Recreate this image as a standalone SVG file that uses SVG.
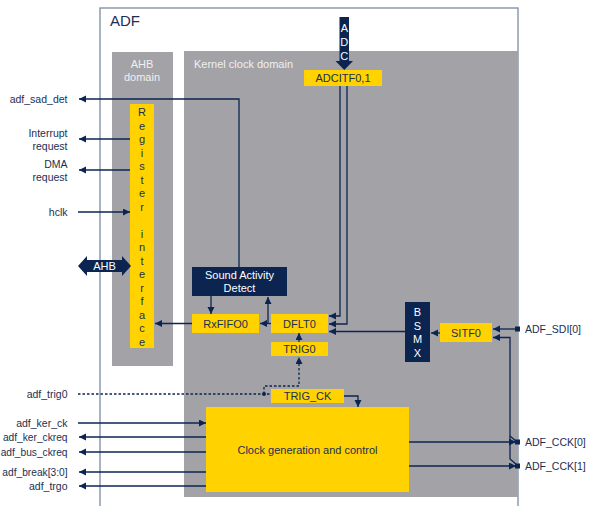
<svg xmlns="http://www.w3.org/2000/svg" width="589" height="506" viewBox="0 0 589 506">
<defs>
<style>
text{font-family:"Liberation Sans",Arial,sans-serif;fill:#1b2f52;font-size:11px}
.s{font-size:10.5px}
.t{font-size:10.2px}
.w{fill:#ffffff}
.lt{fill:#f0f0f2}
.mid{text-anchor:middle}
.end{text-anchor:end}
.y{fill:#ffd200}
.n{fill:#0b2550}
.g{fill:#a3a2a7}
.c{fill:none;stroke:#0b2550;stroke-width:1.3}
.a{marker-end:url(#ah)}
.d{stroke-dasharray:2.5 2}
</style>
<marker id="ah" markerUnits="userSpaceOnUse" markerWidth="8" markerHeight="8" refX="7" refY="3.5" orient="auto">
<path d="M0,0 L7,3.5 L0,7 z" fill="#0b2550"/>
</marker>
</defs>
<rect x="0" y="0" width="589" height="506" fill="#ffffff"/>
<g id="adf">
<rect x="100" y="8" width="418" height="510" fill="#ffffff" stroke="#7a8aa3" stroke-width="1.3"/>
<text x="110" y="26" style="font-size:15px">ADF</text>
</g>
<g id="ahb-domain">
<rect class="g" x="112" y="52" width="61" height="314"/>
<text class="lt mid" x="142" y="68">AHB</text>
<text class="lt mid" x="142" y="81">domain</text>
</g>
<g id="kernel-domain">
<rect class="g" x="184" y="51" width="334" height="446"/>
<text class="lt" x="194" y="68">Kernel clock domain</text>
</g>
<g id="register-interface">
<rect class="y" x="130" y="104" width="24" height="244"/>
<g class="mid">
<text x="142" y="116">R</text><text x="142" y="129.5">e</text><text x="142" y="143">g</text><text x="142" y="156.5">i</text><text x="142" y="170">s</text><text x="142" y="183.5">t</text><text x="142" y="197">e</text><text x="142" y="210.5">r</text>
<text x="142" y="237.5">i</text><text x="142" y="251">n</text><text x="142" y="264.5">t</text><text x="142" y="278">e</text><text x="142" y="291.5">r</text><text x="142" y="305">f</text><text x="142" y="318.5">a</text><text x="142" y="332">c</text><text x="142" y="345.5">e</text>
</g>
</g>
<g id="adc">
<path class="n" d="M339.5 17 H349 V61 H353 L344.3 70 L335.5 61 H339.5 Z"/>
<text class="w mid" x="344.3" y="32">A</text>
<text class="w mid" x="344.3" y="46">D</text>
<text class="w mid" x="344.3" y="60">C</text>
</g>
<g id="adcitf">
<rect class="y" x="304" y="70" width="78" height="16"/>
<text class="mid" x="343" y="82">ADCITF0,1</text>
</g>
<g id="sad">
<rect class="n" x="192" y="267" width="95" height="29"/>
<text class="w mid" x="239.5" y="279">Sound Activity</text>
<text class="w mid" x="239.5" y="292">Detect</text>
</g>
<g id="rxfifo0">
<rect class="y" x="192" y="314" width="67" height="19"/>
<text class="mid" x="225.5" y="327.5">RxFIFO0</text>
</g>
<g id="dflt0">
<rect class="y" x="271" y="314" width="57" height="19"/>
<text class="mid" x="299.5" y="327.5">DFLT0</text>
</g>
<g id="trig0">
<rect class="y" x="271" y="342" width="57" height="14"/>
<text class="mid" x="299.5" y="353">TRIG0</text>
</g>
<g id="trig-ck">
<rect class="y" x="271" y="389" width="73" height="14"/>
<text class="mid" x="307.5" y="400">TRIG_CK</text>
</g>
<g id="bsmx">
<rect class="n" x="405" y="302" width="25" height="60"/>
<text class="w mid" x="417.5" y="316">B</text>
<text class="w mid" x="417.5" y="329.5">S</text>
<text class="w mid" x="417.5" y="343">M</text>
<text class="w mid" x="417.5" y="357">X</text>
</g>
<g id="sitf0">
<rect class="y" x="440" y="323" width="52" height="19"/>
<text class="mid" x="466" y="336.5">SITF0</text>
</g>
<g id="clockgen">
<rect class="y" x="206" y="407" width="203" height="85"/>
<text class="mid" x="307.5" y="454">Clock generation and control</text>
</g>
<g id="ahb-bus">
<path class="n" d="M78 266 L87 256 V260 H122 V256 L131 266 L122 276 V272 H87 V276 Z"/>
<text class="w mid" x="104.5" y="270">AHB</text>
</g>
<g id="labels">
<text class="end s" x="67.5" y="103">adf_sad_det</text>
<text class="end s" x="67.5" y="137">Interrupt</text>
<text class="end s" x="67.5" y="150">request</text>
<text class="end s" x="67.5" y="168">DMA</text>
<text class="end s" x="67.5" y="181">request</text>
<text class="end s" x="67.5" y="216">hclk</text>
<text class="end s" x="67.5" y="398">adf_trig0</text>
<text class="end s" x="67.5" y="427">adf_ker_ck</text>
<text class="end t" x="67.5" y="441">adf_ker_ckreq</text>
<text class="end t" x="67.5" y="456">adf_bus_ckreq</text>
<text class="end t" x="67.5" y="476">adf_break[3:0]</text>
<text class="end s" x="67.5" y="490">adf_trgo</text>
<text class="s" x="525" y="333">ADF_SDI[0]</text>
<text class="s" x="525" y="446">ADF_CCK[0]</text>
<text class="s" x="525" y="470">ADF_CCK[1]</text>
</g>
<g id="connectors">
<path class="c a" d="M239 267 V99 H79"/>
<path class="c a" d="M130 139 H79"/>
<path class="c a" d="M130 170 H79"/>
<path class="c a" d="M78 212 H130"/>
<path class="c a" d="M192 323.5 H155"/>
<path class="c a" d="M211 296 V314"/>
<path class="c a" d="M271 323.5 H260"/>
<path class="c a" d="M268 323.5 V297"/>
<path class="c a" d="M340 86 V316 H329"/>
<path class="c a" d="M347 86 V324 H329"/>
<path class="c a" d="M405 331.5 H329"/>
<path class="c a" d="M440 333 H431"/>
<path class="c a" d="M517 329 H493"/>
<path class="c a" d="M517 442 L510 436 V337.5 H493"/>
<path class="c" d="M517 465 L510 459 V436"/>
<path class="c a" d="M299 342 V333"/>
<path class="c d" d="M78 394 H271"/>
<path class="c d a" d="M264 394 V386 H299 V357"/>
<circle cx="264" cy="394" r="2" fill="#0b2550"/>
<path class="c a" d="M344 396 H358 V407"/>
<path class="c a" d="M78 423 H206"/>
<path class="c a" d="M206 437 H79"/>
<path class="c a" d="M206 452 H79"/>
<path class="c a" d="M206 472 H79"/>
<path class="c a" d="M206 486 H79"/>
<path class="c a" d="M409 442 H516"/>
<path class="c a" d="M409 466 H516"/>
<rect x="515" y="326.5" width="5" height="5" fill="#0b2550"/>
<rect x="515" y="439.5" width="5" height="5" fill="#0b2550"/>
<rect x="515" y="463.5" width="5" height="5" fill="#0b2550"/>
</g>
</svg>
